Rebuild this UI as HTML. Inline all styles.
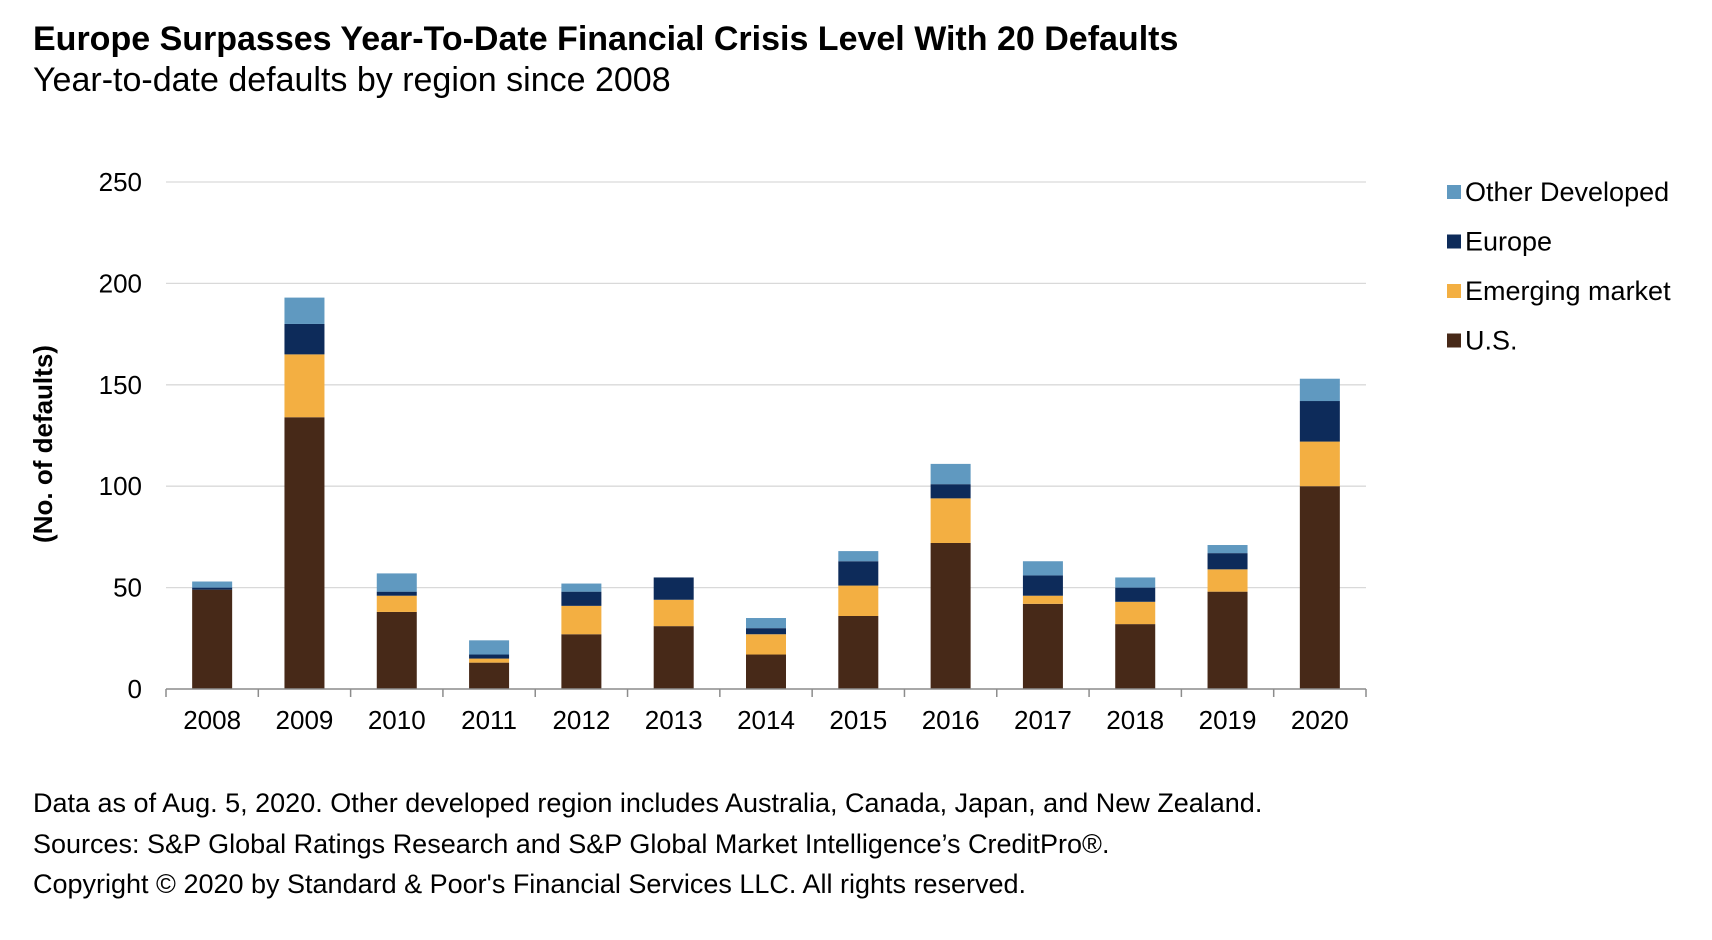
<!DOCTYPE html>
<html><head><meta charset="utf-8"><style>
html,body{margin:0;padding:0;background:#fff;width:1712px;height:940px;overflow:hidden}
svg{display:block;font-family:"Liberation Sans",Arial,sans-serif}
</style></head><body>
<svg id="chart" width="1712" height="940" viewBox="0 0 1712 940" xmlns="http://www.w3.org/2000/svg">
<text x="33" y="50" font-size="34" font-weight="bold" fill="#000">Europe Surpasses Year-To-Date Financial Crisis Level With 20 Defaults</text>
<text x="33" y="91" font-size="34" fill="#000">Year-to-date defaults by region since 2008</text>
<g id="grid"></g>
<g id="bars"></g>
<g id="axes"></g>
<text transform="translate(52,444) rotate(-90)" text-anchor="middle" font-size="26" font-weight="bold" fill="#000">(No. of defaults)</text>
<g id="legend"></g>
<text x="33" y="812" font-size="27" fill="#000">Data as of Aug. 5, 2020. Other developed region includes Australia, Canada, Japan, and New Zealand.</text>
<text x="33" y="853" font-size="27" fill="#000">Sources: S&amp;P Global Ratings Research and S&amp;P Global Market Intelligence’s CreditPro®.</text>
<text x="33" y="893" font-size="27" fill="#000">Copyright © 2020 by Standard &amp; Poor's Financial Services LLC. All rights reserved.</text>
</svg>
<script>
const categories = ["2008","2009","2010","2011","2012","2013","2014","2015","2016","2017","2018","2019","2020"];
const usValues = [49,134,38,13,27,31,17,36,72,42,32,48,100];
const emergingValues = [0,31,8,2,14,13,10,15,22,4,11,11,22];
const europeValues = [1,15,2,2,7,11,3,12,7,10,7,8,20];
const otherValues = [3,13,9,7,4,0,5,5,10,7,5,4,11];
const yTicks = [0,50,100,150,200,250];
const seriesNames = ["U.S.","Emerging market","Europe","Other Developed"];
const seriesColors = ["#472918","#f3af42","#0d2b5a","#6099c0"];

const NS = "http://www.w3.org/2000/svg";
const X0 = 166, X1 = 1366, Y0 = 689, Y250 = 182, BW = 40;
const bandW = (X1 - X0) / categories.length;
function y(v){ return Y0 - (v / 250) * (Y0 - Y250); }
function xc(i){ return X0 + bandW * (i + 0.5); }
function mk(tag, attrs, parent){ const e = document.createElementNS(NS, tag); for (const k in attrs) e.setAttribute(k, attrs[k]); parent.appendChild(e); return e; }

const grid = document.getElementById('grid');
const axes = document.getElementById('axes');
yTicks.forEach(t => {
  if (t > 0) {
    const g = mk('line', {x1:X0, x2:X1, y1:y(t), y2:y(t), stroke:'#d9d9d9', 'stroke-width':1.3}, grid);
    
    
  }
  const lab = mk('text', {x:142, y:y(t)+9, 'text-anchor':'end', 'font-size':26, fill:'#000'}, axes);
  lab.textContent = t;
  
  
});
const ax = mk('line', {x1:X0, x2:X1, y1:Y0, y2:Y0, stroke:'#8c8c8c', 'stroke-width':1.5}, axes);


for (let i = 0; i <= categories.length; i++) {
  const tx = X0 + bandW * i;
  const tk = mk('line', {x1:tx, x2:tx, y1:Y0, y2:Y0+8, stroke:'#8c8c8c', 'stroke-width':1.5}, axes);
  
  
}
categories.forEach((c, i) => {
  const t = mk('text', {x:xc(i), y:729, 'text-anchor':'middle', 'font-size':26, fill:'#000'}, axes);
  t.textContent = c;
  
  
});

const bars = document.getElementById('bars');
const series = [usValues, emergingValues, europeValues, otherValues];
const keys = ['us','emerging','europe','other'];
categories.forEach((c, i) => {
  let base = 0;
  series.forEach((arr, s) => {
    const v = arr[i];
    if (v > 0) {
      const r = mk('rect', {x:xc(i)-BW/2, y:y(base+v), width:BW, height:y(base)-y(base+v), fill:seriesColors[s]}, bars);
      
      
    }
    base += v;
  });
});

const legend = document.getElementById('legend');
const order = [3,2,1,0];
order.forEach((s, k) => {
  const cy = 192 + k * 49.5;
  const sw = mk('rect', {x:1447, y:cy-7, width:14, height:14, fill:seriesColors[s]}, legend);
  
  
  const t = mk('text', {x:1465, y:cy+9, 'font-size':27, fill:'#000'}, legend);
  t.textContent = seriesNames[s];
  
  
});
</script>
</body></html>
